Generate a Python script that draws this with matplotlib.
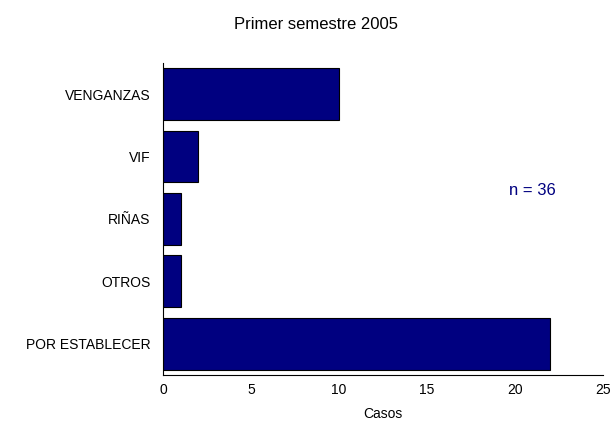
import matplotlib
matplotlib.use("Agg")
import matplotlib.pyplot as plt

plt.rcParams['font.family'] = ['Liberation Sans', 'DejaVu Sans']

categorias = ['VENGANZAS', 'VIF', 'RIÑAS', 'OTROS', 'POR ESTABLECER']
casos = [10, 2, 1, 1, 22]
ticks_x = [0, 5, 10, 15, 20, 25]

fig = plt.figure(figsize=(6.14, 4.23), dpi=100)
ax = fig.add_axes([0.2655, 0.1135, 0.717, 0.7376])

pos = list(range(len(categorias)))
ax.barh(pos, casos, height=0.83, color='#000080', edgecolor='black', linewidth=0.8)
ax.set_ylim(len(categorias) - 0.5, -0.5)
ax.set_xlim(0, 25)
ax.set_xticks(ticks_x)
ax.set_yticks(pos)
ax.set_yticklabels(categorias)
ax.tick_params(axis='both', length=0, labelsize=10)
ax.tick_params(axis='x', pad=6)
ax.tick_params(axis='y', pad=9)
ax.spines['top'].set_visible(False)
ax.spines['right'].set_visible(False)
ax.set_xlabel('Casos', fontsize=10, labelpad=7)

fig.text(0.515, 0.942, 'Primer semestre 2005', ha='center', va='center', fontsize=12)
ax.text(0.84, 0.59, 'n = 36', transform=ax.transAxes, ha='center', va='center',
        fontsize=12, color='#000080')

fig.savefig('out.png', dpi=100)
